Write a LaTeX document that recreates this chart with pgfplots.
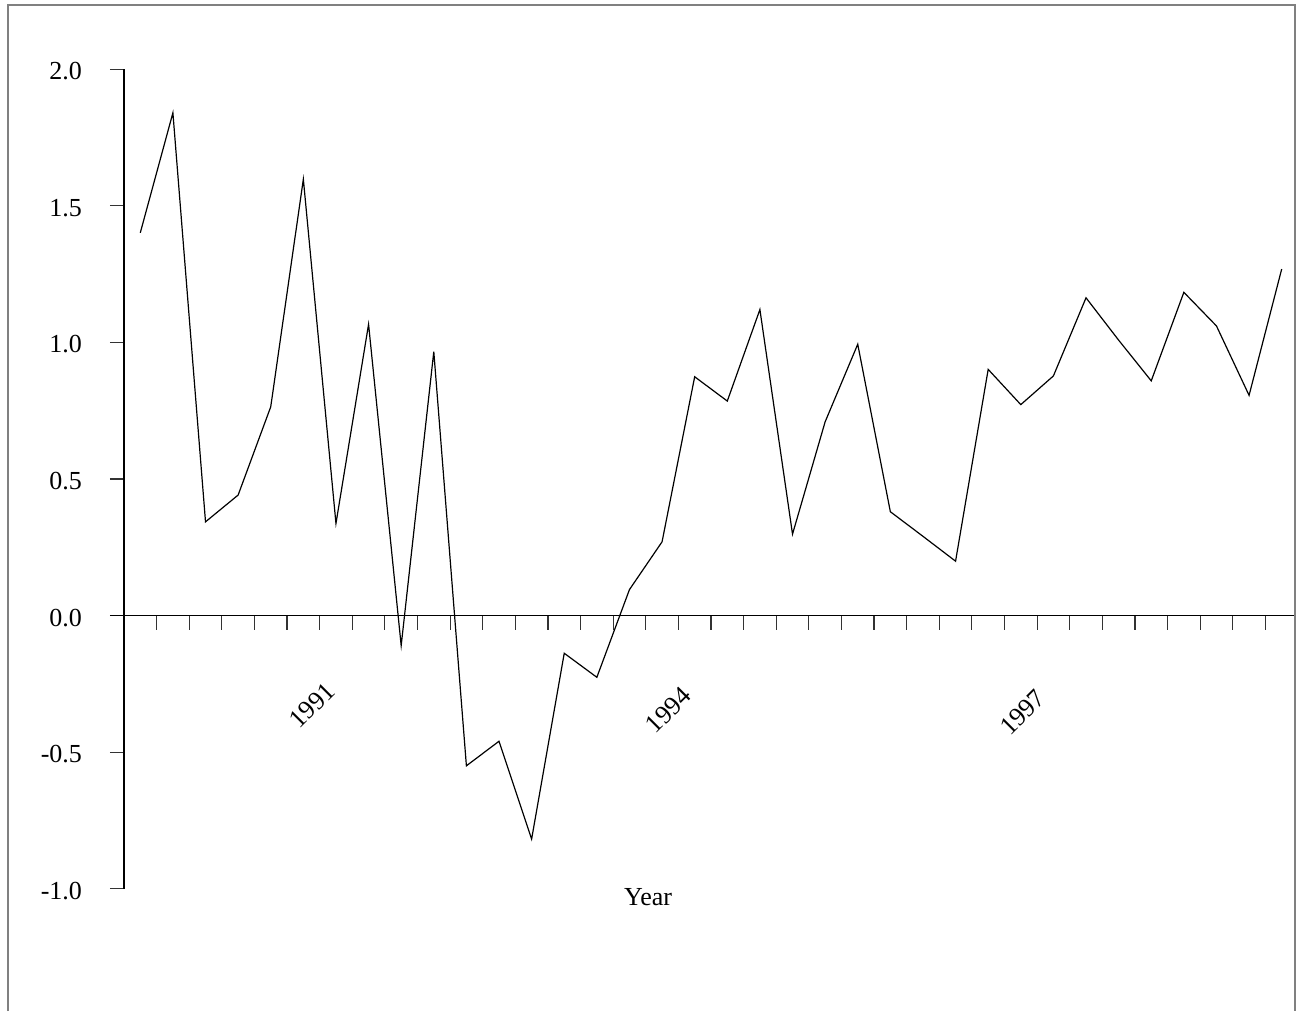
\documentclass[border=0pt]{standalone}
\usepackage{fontspec}
\setmainfont{Liberation Serif}
\usepackage{pgfplots}
\pgfplotsset{compat=1.18}
\pgfplotstableread{
x y
0.5 1.401
1.5 1.840
2.5 0.343
3.5 0.441
4.5 0.764
5.5 1.597
6.5 0.337
7.5 1.066
8.5 -0.110
9.5 0.966
10.5 -0.550
11.5 -0.460
12.5 -0.818
13.5 -0.138
14.5 -0.226
15.5 0.095
16.5 0.270
17.5 0.874
18.5 0.785
19.5 1.120
20.5 0.298
21.5 0.709
22.5 0.993
23.5 0.380
24.5 0.290
25.5 0.199
26.5 0.901
27.5 0.772
28.5 0.877
29.5 1.163
30.5 1.008
31.5 0.859
32.5 1.183
33.5 1.060
34.5 0.806
35.5 1.268
}\series
\newcommand{\lblfont}{\fontsize{13}{15}\selectfont}
\begin{document}
\begin{tikzpicture}
\begin{axis}[
  scale only axis,
  width=592.5pt, height=409.8pt,
  xmin=-0.43, xmax=35.91, ymin=-1, ymax=2,
  axis lines=middle,
  axis line style={-, line width=0.6pt, black},
  xtick={0,...,35}, xticklabels={},
  ytick={-1,-0.5,0,0.5,1,1.5,2},
  yticklabels={-1.0,-0.5,0.0,0.5,1.0,1.5,2.0},
  tick align=outside,
  major tick length=7pt,
  tick style={line width=0.6pt, black!80},
  every tick label/.append style={font=\lblfont},
  yticklabel style={xshift=-10.5pt, yshift=-1pt},
  clip=false,
]
\addplot[black, line width=0.6pt, mark=none] table[x=x, y=y] {\series};
\path (axis cs:-3.802,-1.448) rectangle (axis cs:36.154,2.253);
\draw[black!50, line width=1pt] (axis cs:-3.557,-1.448) |- (axis cs:35.91,2.235) -- (axis cs:35.91,-1.448);
\node[anchor=east, font=\lblfont, xshift=-17.5pt, yshift=-1pt] at (axis cs:0,0) {0.0};
\node[font=\lblfont] at (axis cs:16.07,-1.030) {Year};
\node[rotate=45, font=\lblfont] at (axis cs:5.77,-0.329) {1991};
\node[rotate=45, font=\lblfont] at (axis cs:16.69,-0.346) {1994};
\node[rotate=45, font=\lblfont] at (axis cs:27.55,-0.354) {1997};
\end{axis}
\end{tikzpicture}
\end{document}
